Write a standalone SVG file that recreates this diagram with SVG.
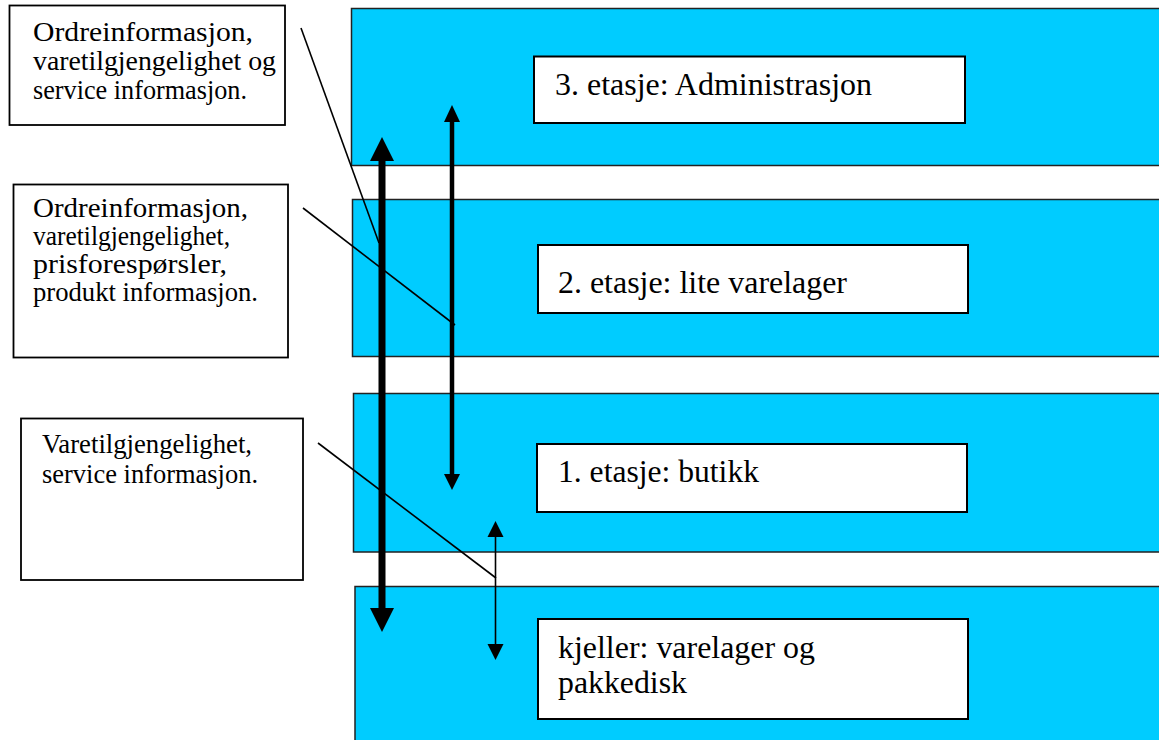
<svg xmlns="http://www.w3.org/2000/svg" width="1159" height="740" viewBox="0 0 1159 740">
<style>
.floor{fill:#00CCFF;stroke:#222;stroke-width:1.5}
.room{fill:#fff;stroke:#000;stroke-width:2}
.note{fill:#fff;stroke:#000;stroke-width:1.8}
.t32{font-family:"Liberation Serif","Times New Roman",serif;font-size:32px;fill:#000}
.t26{font-family:"Liberation Serif","Times New Roman",serif;font-size:27px;fill:#000}
.lead{stroke:#000;stroke-width:1.6;fill:none}
.head{fill:#000}
</style>
<rect width="1159" height="740" fill="#fff"/>
<g id="floor3">
<rect class="floor" x="351.5" y="8.5" width="820" height="157"/>
<rect class="room" x="534" y="56.5" width="431" height="66.5"/>
<text class="t32" x="555" y="95" textLength="317" lengthAdjust="spacingAndGlyphs">3. etasje: Administrasjon</text>
</g>
<g id="floor2">
<rect class="floor" x="352.5" y="199.5" width="820" height="157"/>
<rect class="room" x="538" y="245" width="430" height="68"/>
<text class="t32" x="558" y="293" textLength="289" lengthAdjust="spacingAndGlyphs">2. etasje: lite varelager</text>
</g>
<g id="floor1">
<rect class="floor" x="353.5" y="393.5" width="820" height="158.5"/>
<rect class="room" x="537" y="444" width="430" height="68"/>
<text class="t32" x="558" y="482" textLength="201" lengthAdjust="spacingAndGlyphs">1. etasje: butikk</text>
</g>
<g id="basement">
<rect class="floor" x="355" y="586.5" width="820" height="170"/>
<rect class="room" x="538" y="619" width="430" height="100"/>
<text class="t32" x="558" y="658" textLength="257" lengthAdjust="spacingAndGlyphs">kjeller: varelager og</text>
<text class="t32" x="558" y="693" textLength="129" lengthAdjust="spacingAndGlyphs">pakkedisk</text>
</g>
<g id="note1">
<rect class="note" x="9.5" y="5.5" width="275.5" height="119.5"/>
<text class="t26" x="33" y="41" textLength="220" lengthAdjust="spacingAndGlyphs">Ordreinformasjon,</text>
<text class="t26" x="33" y="70" textLength="243" lengthAdjust="spacingAndGlyphs">varetilgjengelighet og</text>
<text class="t26" x="33" y="99" textLength="214" lengthAdjust="spacingAndGlyphs">service informasjon.</text>
</g>
<g id="note2">
<rect class="note" x="13.5" y="184.5" width="274.5" height="173"/>
<text class="t26" x="33" y="217" textLength="215" lengthAdjust="spacingAndGlyphs">Ordreinformasjon,</text>
<text class="t26" x="33" y="245" textLength="197" lengthAdjust="spacingAndGlyphs">varetilgjengelighet,</text>
<text class="t26" x="33" y="273" textLength="194" lengthAdjust="spacingAndGlyphs">prisforespørsler,</text>
<text class="t26" x="33" y="301" textLength="225" lengthAdjust="spacingAndGlyphs">produkt informasjon.</text>
</g>
<g id="note3">
<rect class="note" x="21" y="418.5" width="282" height="161.5"/>
<text class="t26" x="42" y="453" textLength="210" lengthAdjust="spacingAndGlyphs">Varetilgjengelighet,</text>
<text class="t26" x="42" y="483" textLength="216" lengthAdjust="spacingAndGlyphs">service informasjon.</text>
</g>
<g id="connectors">
<line class="lead" x1="301" y1="28" x2="379" y2="243"/>
<line class="lead" x1="303" y1="208" x2="455" y2="325"/>
<line class="lead" x1="318" y1="443" x2="496" y2="578"/>
<line x1="382" y1="158" x2="382" y2="611" stroke="#000" stroke-width="7"/>
<polygon class="head" points="382,137 370,161 394,161"/>
<polygon class="head" points="370,608 394,608 382,632"/>
<line x1="452" y1="120" x2="452" y2="476" stroke="#000" stroke-width="4.5"/>
<polygon class="head" points="452,105 444,122 460,122"/>
<polygon class="head" points="444,474 460,474 452,490"/>
<line x1="495.5" y1="535" x2="495.5" y2="646" stroke="#000" stroke-width="1.6"/>
<polygon class="head" points="495.5,521 487.5,537 503.5,537"/>
<polygon class="head" points="487.5,644 503.5,644 495.5,660"/>
</g>
</svg>
